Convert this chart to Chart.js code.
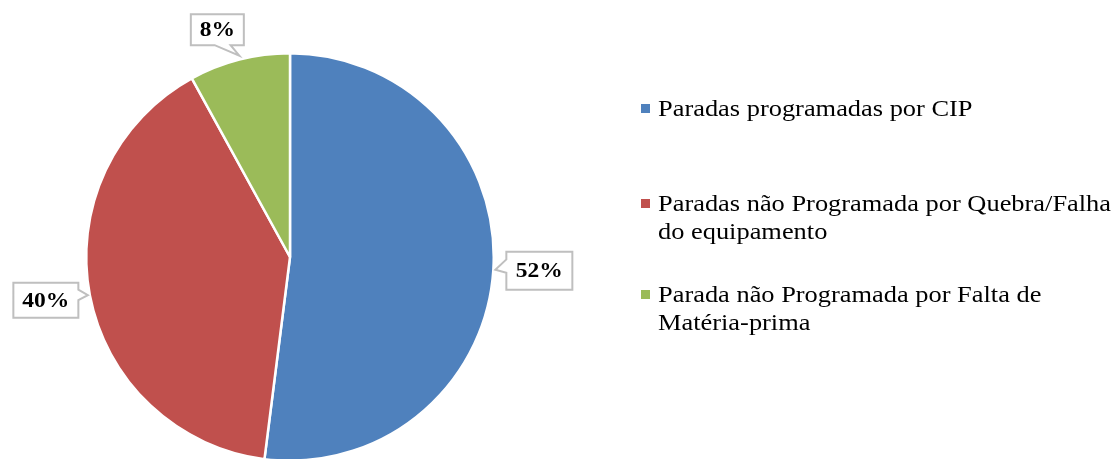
<!DOCTYPE html>
<html>
<head>
<meta charset="utf-8">
<script src="https://cdn.jsdelivr.net/npm/chart.js@4/dist/chart.umd.min.js"></script>
<style>
html,body{margin:0;padding:0;background:#fff;overflow:hidden;}
#wrap{position:relative;width:1118px;height:470px;}
</style>
</head>
<body>
<div id="wrap"><canvas id="c"></canvas></div>
<script>
// ---- data ----
const categories = [
  ["Paradas programadas por CIP"],
  ["Paradas não Programada por Quebra/Falha", "do equipamento"],
  ["Parada não Programada por Falta de", "Matéria-prima"]
];
const values = [52, 40, 8];
const valueLabels = ["52%", "40%", "8%"];
const colors = ["#4F81BD", "#C0504D", "#9BBB59"];

// label box placement (offset of box center from slice edge point, box size)
const labelBoxes = [
  {dx: 46, dy: 1, w: 66, h: 38},
  {dx: -44, dy: 5, w: 65, h: 35},
  {dx: -22, dy: -30, w: 53, h: 31}
];

const calloutPlugin = {
  id: 'callouts',
  afterDatasetsDraw(chart) {
    const ctx = chart.ctx;
    const meta = chart.getDatasetMeta(0);
    meta.data.forEach((arc, i) => {
      const mid = (arc.startAngle + arc.endAngle) / 2;
      const ax = arc.x + Math.cos(mid) * arc.outerRadius;
      const ay = arc.y + Math.sin(mid) * arc.outerRadius;
      const b = labelBoxes[i];
      const cx = ax + b.dx, cy = ay + b.dy;
      const l = cx - b.w / 2, r = cx + b.w / 2, t = cy - b.h / 2, bo = cy + b.h / 2;
      const tipX = ax, tipY = ay;
      ctx.save();
      ctx.beginPath();
      const horiz = Math.abs(b.dx) / b.w > Math.abs(b.dy) / b.h;
      if (horiz && b.dx > 0) { // pointer on left side
        ctx.moveTo(l, t); ctx.lineTo(r, t); ctx.lineTo(r, bo); ctx.lineTo(l, bo);
        ctx.lineTo(l, t + b.h * 0.55); ctx.lineTo(tipX + 2, tipY); ctx.lineTo(l, t + b.h * 0.2);
        ctx.closePath();
      } else if (horiz && b.dx < 0) { // pointer on right side
        ctx.moveTo(l, t); ctx.lineTo(r, t); ctx.lineTo(r, t + b.h * 0.2);
        ctx.lineTo(tipX - 2, tipY); ctx.lineTo(r, t + b.h * 0.5);
        ctx.lineTo(r, bo); ctx.lineTo(l, bo); ctx.closePath();
      } else { // pointer on bottom
        ctx.moveTo(l, t); ctx.lineTo(r, t); ctx.lineTo(r, bo);
        ctx.lineTo(l + b.w * 0.75, bo); ctx.lineTo(tipX, tipY - 4); ctx.lineTo(l + b.w * 0.45, bo);
        ctx.lineTo(l, bo); ctx.closePath();
      }
      ctx.fillStyle = '#fff';
      ctx.fill();
      ctx.lineWidth = 2;
      ctx.strokeStyle = '#BFBFBF';
      ctx.stroke();
      ctx.fillStyle = '#000';
      ctx.font = 'bold 21px "Liberation Serif", "Times New Roman", serif';
      ctx.textAlign = 'center';
      ctx.textBaseline = 'middle';
      ctx.translate(cx, cy + 1);
      ctx.scale(1.12, 1);
      ctx.fillText(valueLabels[i], 0, 0);
      ctx.restore();
    });
  }
};

const legendPlugin = {
  id: 'customLegend',
  afterDraw(chart) {
    const ctx = chart.ctx;
    const x0 = 641, tx = 658;
    const baselines = [116, 211, 302];
    const lineH = 28;
    const sx = 1.1;
    ctx.save();
    ctx.font = '24px "Liberation Serif", "Times New Roman", serif';
    ctx.textBaseline = 'alphabetic';
    ctx.textAlign = 'left';
    categories.forEach((lines, i) => {
      const y = baselines[i];
      ctx.fillStyle = colors[i];
      ctx.fillRect(x0, y - 12, 9, 9);
      ctx.fillStyle = '#000';
      lines.forEach((ln, j) => {
        ctx.save();
        ctx.translate(tx, y + j * lineH);
        ctx.scale(sx, 1);
        ctx.fillText(ln, 0, 0);
        ctx.restore();
      });
    });
    ctx.restore();
  }
};

new Chart(document.getElementById('c'), {
  type: 'pie',
  data: {
    labels: categories.map(c => c.join(' ')),
    datasets: [{
      data: values,
      backgroundColor: colors,
      borderColor: '#fff',
      borderWidth: 2.5
    }]
  },
  options: {
    responsive: true,
    maintainAspectRatio: false,
    animation: false,
    layout: {padding: {left: 85, right: 623, top: 52, bottom: 8}},
    plugins: {legend: {display: false}, tooltip: {enabled: false}}
  },
  plugins: [calloutPlugin, legendPlugin]
});
</script>
</body>
</html>
